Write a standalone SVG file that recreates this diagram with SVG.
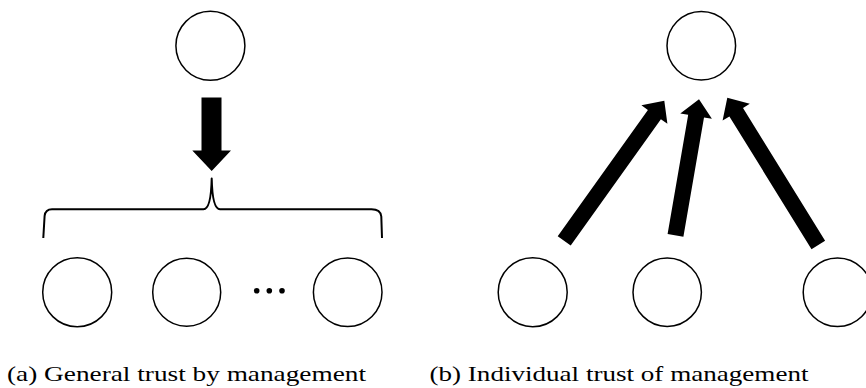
<svg xmlns="http://www.w3.org/2000/svg" width="866" height="388" viewBox="0 0 866 388">
<style>
.node{fill:#fff;stroke:#000;stroke-width:1.5}
.arrow{fill:#000;stroke:none}
.brace{fill:none;stroke:#000;stroke-width:2;stroke-linejoin:round}
</style>
<rect width="866" height="388" fill="#fff"/>
<g id="a-top"><circle class="node" cx="210.4" cy="45.8" r="34.5"/></g>
<g id="a-n1"><circle class="node" cx="77.2" cy="292.2" r="34.5"/></g>
<g id="a-n2"><circle class="node" cx="186.7" cy="292.2" r="34"/></g>
<g id="a-dots">
<circle cx="256.7" cy="290.7" r="2.8" fill="#000"/>
<circle cx="269.3" cy="290.7" r="2.8" fill="#000"/>
<circle cx="282" cy="290.7" r="2.8" fill="#000"/>
</g>
<g id="a-n3"><circle class="node" cx="347.7" cy="292.2" r="34.3"/></g>
<g id="b-top"><circle class="node" cx="701.3" cy="45.8" r="34.3"/></g>
<g id="b-n1"><circle class="node" cx="532.7" cy="292.2" r="34.5"/></g>
<g id="b-n2"><circle class="node" cx="667.2" cy="292.2" r="34.2"/></g>
<g id="b-n3"><circle class="node" cx="837.5" cy="292.2" r="34.3"/></g>
<g id="connectors">
<polygon class="arrow" points="201.5,97.5 221.5,97.5 221.5,150.5 231,150.5 211.7,171 192.3,150.5 201.5,150.5"/>
<path class="brace" d="M43.3,238 L44.6,216 Q45.4,209.3 52,209.3 L203.5,209.3 Q211,209.3 211.7,178.5 Q212.4,209.3 220,209.3 L371.5,209.3 Q380.5,209.3 381.3,216.5 L382,238"/>
<polygon class="arrow" points="570.7,245.5 660.9,119.2 667.4,123.8 664.3,100.7 641.4,105.2 647.9,109.9 557.7,236.2"/>
<polygon class="arrow" points="683.4,236.8 704,117.5 711.9,118.8 699,99.3 680.3,113.4 688.2,114.7 667.6,234"/>
<polygon class="arrow" points="825.1,240.8 743,108 749.8,103.8 727.3,97.7 722.6,120.6 729.4,116.4 811.5,249.2"/>
</g>
<text x="7" y="381" font-family="Liberation Serif, DejaVu Serif, serif" font-size="22" fill="#000" textLength="359" lengthAdjust="spacingAndGlyphs">(a) General trust by management</text>
<text x="429.5" y="381" font-family="Liberation Serif, DejaVu Serif, serif" font-size="22" fill="#000" textLength="379" lengthAdjust="spacingAndGlyphs">(b) Individual trust of management</text>
</svg>
